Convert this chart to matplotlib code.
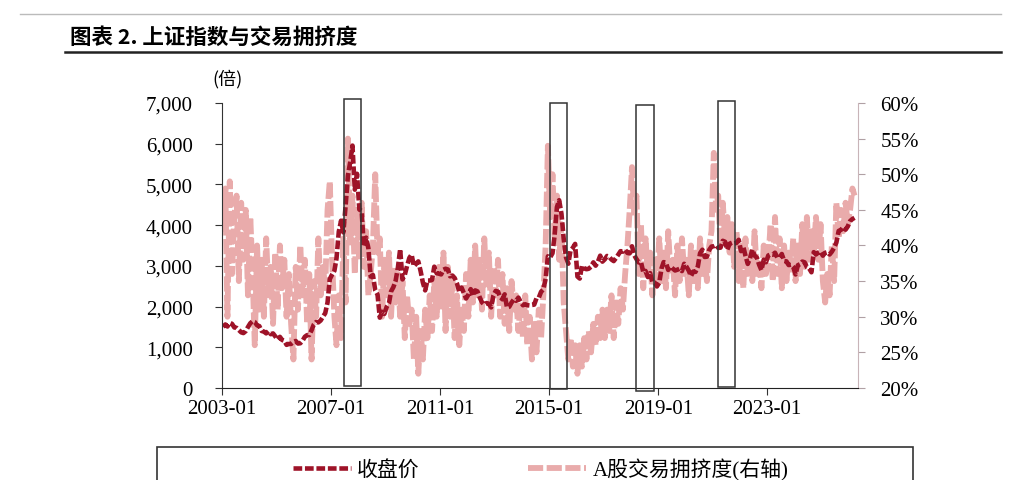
import matplotlib
matplotlib.use('Agg')
import matplotlib.pyplot as plt
import matplotlib.dates as mdates
import matplotlib.ticker as mticker
from matplotlib.patches import Rectangle
from matplotlib.lines import Line2D
import pandas as pd

# 上证指数 monthly close, 2003-01 .. 2026-03
close = [
    1500, 1560, 1510, 1600, 1576, 1487, 1477, 1422, 1367, 1349, 1397, 1497,  # 2003
    1590, 1640, 1620, 1540, 1520, 1400, 1386, 1342, 1396, 1321, 1340, 1266,  # 2004
    1191, 1256, 1181, 1159, 1060, 1081, 1083, 1130, 1155, 1092, 1099, 1161,  # 2005
    1258, 1299, 1299, 1420, 1560, 1620, 1612, 1658, 1752, 1837, 2099, 2675,  # 2006
    2786, 2881, 3183, 3841, 4109, 3821, 4471, 5218, 5552, 5954, 4871, 5261,  # 2007
    4383, 4348, 3472, 3693, 3433, 2736, 2775, 2397, 2293, 1728, 1871, 1820,  # 2008
    1990, 2082, 2373, 2477, 2632, 2959, 3412, 2667, 2779, 2995, 3195, 3277,  # 2009
    2989, 3051, 3109, 2870, 2592, 2398, 2638, 2639, 2655, 2979, 2820, 2808,  # 2010
    2790, 2905, 2928, 2911, 2743, 2762, 2701, 2567, 2359, 2468, 2333, 2199,  # 2011
    2292, 2428, 2262, 2397, 2373, 2226, 2103, 2047, 2086, 2069, 1980, 2269,  # 2012
    2385, 2365, 2237, 2178, 2301, 1979, 1994, 2098, 2175, 2141, 2220, 2116,  # 2013
    2033, 2056, 2033, 2026, 2039, 2048, 2202, 2217, 2364, 2420, 2683, 3235,  # 2014
    3210, 3310, 3748, 4441, 4612, 4277, 3664, 3206, 3053, 3383, 3445, 3539,  # 2015
    2738, 2688, 3004, 2938, 2917, 2930, 2979, 3085, 3005, 3100, 3250, 3104,  # 2016
    3159, 3242, 3223, 3155, 3117, 3192, 3273, 3361, 3349, 3393, 3317, 3307,  # 2017
    3481, 3259, 3169, 3082, 3095, 2847, 2876, 2725, 2821, 2603, 2588, 2494,  # 2018
    2585, 2941, 3091, 3078, 2899, 2979, 2932, 2886, 2905, 2929, 2872, 3050,  # 2019
    2977, 2880, 2750, 2860, 2852, 2985, 3310, 3396, 3218, 3225, 3392, 3473,  # 2020
    3483, 3509, 3441, 3447, 3615, 3591, 3397, 3544, 3568, 3547, 3564, 3640,  # 2021
    3361, 3462, 3252, 3047, 3186, 3399, 3253, 3202, 3024, 2893, 3151, 3089,  # 2022
    3255, 3280, 3273, 3323, 3205, 3202, 3291, 3120, 3110, 3019, 3030, 2975,  # 2023
    2789, 3015, 3041, 3105, 3087, 2967, 2939, 2842, 3336, 3280, 3326, 3352,  # 2024
    3250, 3321, 3336, 3279, 3347, 3444, 3573, 3858, 3883, 3954, 3888, 3968,  # 2025
    4100, 4150, 4180,                                                        # 2026
]

# A股交易拥挤度 (%), same months
crowd = [
    42, 48, 30, 49, 36, 44, 47, 35, 46, 38, 45, 33,  # 2003
    44, 36, 26, 40, 31, 38, 30, 41, 33, 37, 29, 39,  # 2004
    31, 40, 34, 38, 30, 36, 29, 24, 37, 31, 40, 33,  # 2005
    38, 29, 36, 24, 35, 30, 41, 33, 37, 34, 45, 49,  # 2006
    38, 30, 26, 33, 27, 41, 32, 55, 40, 47, 36, 45,  # 2007
    38, 46, 37, 42, 33, 36, 40, 50, 39, 41, 30, 38,  # 2008
    33, 39, 30, 37, 32, 36, 30, 35, 27, 33, 29, 31,  # 2009
    24, 30, 22, 28, 24, 31, 27, 33, 28, 35, 30, 37,  # 2010
    31, 39, 28, 37, 30, 35, 27, 33, 26, 31, 28, 36,  # 2011
    30, 38, 32, 40, 33, 38, 31, 41, 34, 39, 30, 37,  # 2012
    33, 38, 30, 36, 29, 34, 28, 35, 31, 33, 28, 32,  # 2013
    27, 33, 26, 30, 24, 29, 25, 31, 27, 33, 40, 54,  # 2014
    44, 50, 41, 47, 38, 43, 32, 28, 24, 27, 23, 26,  # 2015
    22, 26, 23, 27, 24, 28, 25, 29, 26, 30, 27, 31,  # 2016
    27, 31, 28, 33, 27, 32, 29, 34, 31, 36, 40, 45,  # 2017
    51, 44, 47, 36, 43, 34, 41, 36, 39, 33, 38, 35,  # 2018
    41, 35, 39, 34, 42, 36, 38, 33, 40, 35, 41, 36,  # 2019
    38, 33, 40, 35, 39, 34, 41, 36, 38, 35, 40, 42,  # 2020
    53, 45, 47, 40, 46, 41, 44, 39, 43, 37, 42, 35,  # 2021
    40, 34, 41, 36, 39, 35, 42, 36, 38, 34, 40, 36,  # 2022
    38, 43, 35, 44, 36, 41, 34, 40, 35, 39, 36, 41,  # 2023
    35, 40, 36, 43, 37, 44, 38, 42, 39, 44, 38, 43,  # 2024
    35, 32, 36, 33, 40, 35, 46, 41, 45, 42, 46, 43,  # 2025
    45, 48, 47,                                      # 2026
]

# highlighted periods (left-axis units for the box height)
box_start = ['2007-06-25', '2015-01-15', '2018-03-10', '2021-03-13']
box_end = ['2008-02-05', '2015-08-28', '2018-11-05', '2021-10-30']
box_low = [50, -25, -75, 25]
box_high = [7100, 7000, 6950, 7050]

x_ticks = ['2003-01-01', '2007-01-01', '2011-01-01', '2015-01-01',
           '2019-01-01', '2023-01-01']

DARK = '#9E1328'
PINK = '#E9ABAB'
SERIF = ['Liberation Serif', 'Noto Sans CJK SC']
CJK = ['Noto Sans CJK SC', 'DejaVu Sans']

dates = pd.date_range('2003-01-01', periods=len(close), freq='MS') + pd.Timedelta(days=14)

fig = plt.figure(figsize=(10.16, 4.81), dpi=100)
ax = fig.add_axes([0.2185, 0.1913, 0.626, 0.5925])
ax2 = ax.twinx()
ax.set_zorder(ax2.get_zorder() + 1)
ax.patch.set_visible(False)

ax2.plot(dates, crowd, color=PINK, lw=4.2, dashes=(2.6, 0.6),
         dash_capstyle='butt')
ax.plot(dates, close, color=DARK, lw=3.3, dashes=(1.9, 0.6),
        dash_capstyle='butt')

for s, e, lo, hi in zip(box_start, box_end, box_low, box_high):
    x0 = mdates.date2num(pd.Timestamp(s))
    x1 = mdates.date2num(pd.Timestamp(e))
    ax.add_patch(Rectangle((x0, lo), x1 - x0, hi - lo, fill=False,
                           edgecolor='#333333', lw=1.1, clip_on=False, zorder=5))

ax.set_xlim(pd.Timestamp('2003-01-01'), pd.Timestamp('2026-05-01'))
ax.set_ylim(0, 7000)
ax2.set_ylim(20, 60)
ax.set_yticks(range(0, 7001, 1000))
ax2.set_yticks(range(20, 61, 5))
ax.yaxis.set_major_formatter(mticker.FuncFormatter(lambda v, p: f'{int(v):,}'))
ax2.yaxis.set_major_formatter(mticker.FuncFormatter(lambda v, p: f'{int(v)}%'))
ax.set_xticks(pd.to_datetime(x_ticks))
ax.xaxis.set_major_formatter(mdates.DateFormatter('%Y-%m'))

for a in (ax, ax2):
    a.spines['top'].set_visible(False)
ax.spines['right'].set_visible(False)
ax2.spines['left'].set_visible(False)
ax2.spines['bottom'].set_visible(False)
ax.spines['left'].set_color('#333333')
ax.spines['bottom'].set_color('#222222')
ax2.spines['right'].set_color('#c8b4b8')

ax.tick_params(axis='x', direction='out', length=5, width=0.8,
               colors='#333333', labelcolor='black', labelsize=15, pad=3)
ax.tick_params(axis='y', direction='out', length=5, width=0.8,
               colors='#333333', labelcolor='black', labelsize=15, pad=16)
ax2.tick_params(axis='y', direction='out', length=5, width=0.8,
                colors='#b0a0a4', labelcolor='black', labelsize=15, pad=11)
for lab in ax.get_xticklabels() + ax.get_yticklabels() + ax2.get_yticklabels():
    lab.set_family(SERIF)

fig.text(212 / 1016, 1 - 79 / 481, '(倍)', family=CJK, fontsize=13,
         ha='left', va='center')

# header
fig.add_artist(Line2D([0.02, 0.985], [1 - 15 / 481] * 2, color='#bbbbbb', lw=1))
fig.add_artist(Line2D([0.064, 0.985], [1 - 53 / 481] * 2, color='#222222', lw=1.8))
fig.text(70 / 1016, 1 - 37 / 481, '图表 2. 上证指数与交易拥挤度', family=CJK,
         fontsize=15.5, fontweight='heavy', ha='left', va='center')

# legend
fig.add_artist(Rectangle((157 / 1016, -0.1), 756 / 1016, 0.1 + 1 - 448 / 481,
                         transform=fig.transFigure, fill=False,
                         edgecolor='#333333', lw=1.2))
h1 = Line2D([], [], color=DARK, lw=3.3, dashes=(1.9, 0.6))
h2 = Line2D([], [], color=PINK, lw=4.2, dashes=(2.6, 0.6))
fig.legend([h1, h2], ['收盘价', 'A股交易拥挤度(右轴)'], loc='center left',
           bbox_to_anchor=(280 / 1016, 1 - 470 / 481), ncol=2, frameon=False,
           prop={'family': SERIF, 'size': 15}, handlelength=2.8,
           columnspacing=5.2, handletextpad=0.3, borderpad=0.1)

fig.savefig('out.png', dpi=100)
